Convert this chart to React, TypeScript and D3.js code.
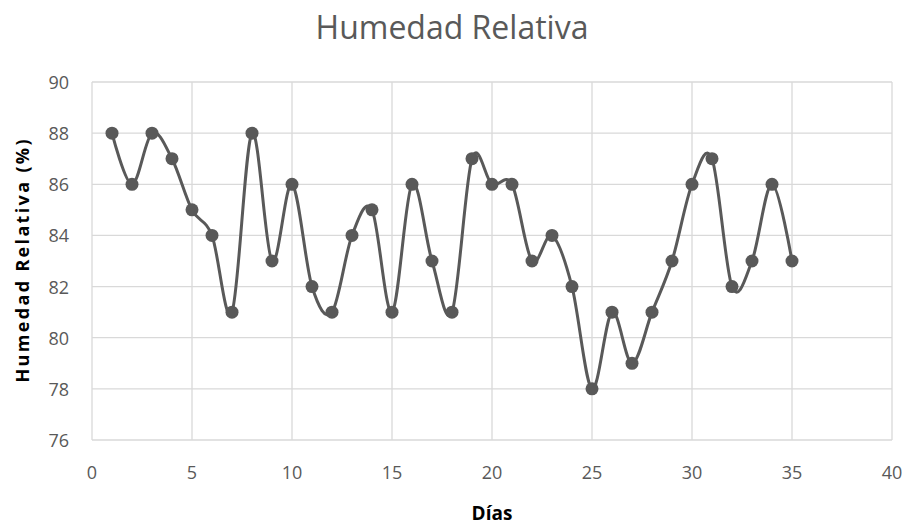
import React from "react";
import * as d3 from "d3";

const dias = [1,2,3,4,5,6,7,8,9,10,11,12,13,14,15,16,17,18,19,20,21,22,23,24,25,26,27,28,29,30,31,32,33,34,35];
const humedad = [88,86,88,87,85,84,81,88,83,86,82,81,84,85,81,86,83,81,87,86,86,83,84,82,78,81,79,81,83,86,87,82,83,86,83];
const xTicks = [0,5,10,15,20,25,30,35,40];
const yTicks = [76,78,80,82,84,86,88,90];

export default function App() {
  const W = 910, H = 525;
  const m = { left: 92, right: 892, top: 82, bottom: 440 };
  const x = d3.scaleLinear().domain([0, 40]).range([m.left, m.right]);
  const y = d3.scaleLinear().domain([76, 90]).range([m.bottom, m.top]);
  const pts: [number, number][] = dias.map((d, i) => [d, humedad[i]]);
  const line = d3.line<[number, number]>()
    .x(d => x(d[0])).y(d => y(d[1]))
    .curve(d3.curveCatmullRom.alpha(0));
  const font = "Open Sans, Liberation Sans, sans-serif";
  return (
    <svg width={W} height={H} style={{ position: "absolute", left: 0, top: 0, background: "#fff" }}>
      <rect x={0} y={0} width={W} height={H} fill="#fff" />
      <text x={452} y={39} textAnchor="middle" fontFamily={font} fontSize={32} fill="#595959">Humedad Relativa</text>
      {xTicks.map(t => (
        <line key={"gx" + t} x1={x(t)} x2={x(t)} y1={m.top} y2={m.bottom} stroke="#d9d9d9" strokeWidth={1.3} />
      ))}
      {yTicks.map(t => (
        <line key={"gy" + t} x1={m.left} x2={m.right} y1={y(t)} y2={y(t)} stroke="#d9d9d9" strokeWidth={1.3} />
      ))}
      {yTicks.map(t => (
        <text key={"ty" + t} x={69} y={y(t) + 7} textAnchor="end" fontFamily={font} fontSize={18} fill="#595959">{t}</text>
      ))}
      {xTicks.map(t => (
        <text key={"tx" + t} x={x(t)} y={479} textAnchor="middle" fontFamily={font} fontSize={18} fill="#595959">{t}</text>
      ))}
      <text x={492} y={520} textAnchor="middle" fontFamily={font} fontSize={19} fontWeight="bold" fill="#000">Días</text>
      <text transform={`translate(29,261) rotate(-90)`} textAnchor="middle" fontFamily={font} fontSize={18} fontWeight="bold" fill="#000" textLength={243} lengthAdjust="spacing">Humedad Relativa  (%)</text>
      <path d={line(pts) || ""} fill="none" stroke="#595959" strokeWidth={3} />
      {pts.map((p, i) => (
        <circle key={i} cx={x(p[0])} cy={y(p[1])} r={6.5} fill="#595959" />
      ))}
    </svg>
  );
}
